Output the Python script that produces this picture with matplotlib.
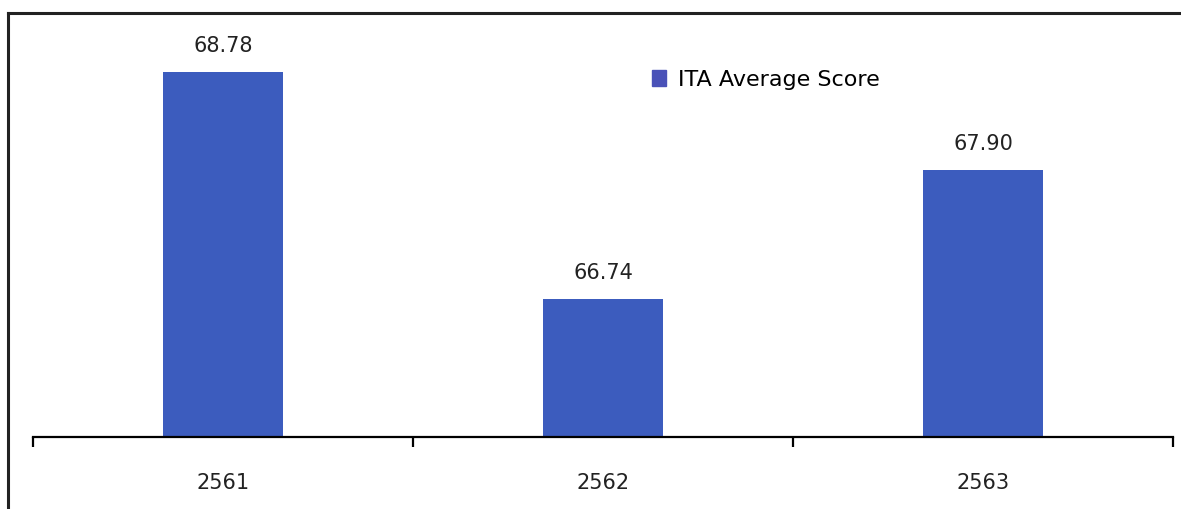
import matplotlib
matplotlib.use("Agg")
import matplotlib.pyplot as plt
from matplotlib.lines import Line2D

years = ["2561", "2562", "2563"]
scores = [68.78, 66.74, 67.90]
series_name = "ITA Average Score"

bar_color = "#3C5CBE"

fig = plt.figure(figsize=(11.81, 5.09), dpi=100)
ax = fig.add_axes([33 / 1181, 1 - 437 / 509, 1140 / 1181, 424 / 509])

x = list(range(len(years)))
bars = ax.bar(x, scores, width=0.315, color=bar_color, label=series_name, zorder=2)

ax.set_xlim(-0.5, len(years) - 0.5)
ax.set_ylim(65.5, 69.31)

# data labels above bars
for xi, v in zip(x, scores):
    ax.annotate(f"{v:.2f}", (xi, v), xytext=(0, 11.5), textcoords="offset points",
                ha="center", va="bottom", fontsize=15, color="#222222")

# axis: only the bottom line, with ticks at category boundaries
for s in ["top", "left", "right"]:
    ax.spines[s].set_visible(False)
ax.spines["bottom"].set_linewidth(1.6)
ax.set_yticks([])
ax.set_xticks([i - 0.5 for i in range(len(years) + 1)])
ax.set_xticklabels([])
ax.tick_params(axis="x", which="major", direction="out", length=7, width=1.6)
ax.set_xticks(x, minor=True)
ax.set_xticklabels(years, minor=True, fontsize=15, color="#222222")
ax.tick_params(axis="x", which="minor", length=0, pad=26)

leg = ax.legend(loc="center left", bbox_to_anchor=(632 / 1181, 1 - 80 / 509),
                bbox_transform=fig.transFigure, frameon=False, fontsize=16,
                handlelength=0.65, handleheight=0.75, handletextpad=0.5)
for h in leg.legend_handles:
    h.set_color("#4A52B8")

# frame lines (left and top, as in the scanned figure)
fig.add_artist(Line2D([8 / 1181, 8 / 1181], [0, 1 - 13 / 509], transform=fig.transFigure,
                      color="#222222", linewidth=2.2))
fig.add_artist(Line2D([8 / 1181, 1], [1 - 13 / 509, 1 - 13 / 509], transform=fig.transFigure,
                      color="#222222", linewidth=2.2))

fig.savefig("out.png", dpi=100, facecolor="white")
